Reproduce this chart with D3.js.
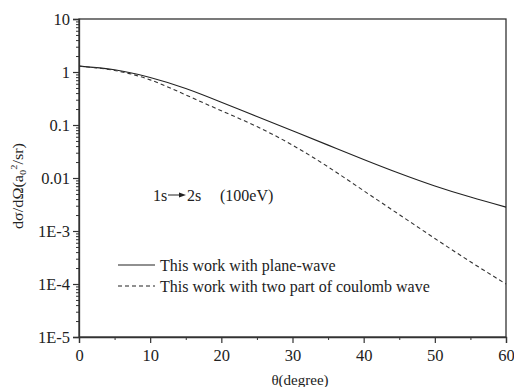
<!DOCTYPE html>
<html>
<head>
<meta charset="utf-8">
<script src="https://cdn.jsdelivr.net/npm/d3@7"></script>
<style>
  body { margin: 0; background: #fff; }
  text { font-family: "Liberation Serif", "Times New Roman", serif; fill: #222; }
</style>
</head>
<body>
<svg id="chart"></svg>
<script>
// scattering angle (degree)
const theta = [0, 5, 10, 15, 20, 25, 30, 35, 40, 45, 50, 55, 60];
// plane-wave result
const planeWave = [1.29, 1.10, 0.79, 0.49, 0.27, 0.1445, 0.0776, 0.0417, 0.0224, 0.0123, 0.00708, 0.00437, 0.00282];
// two part coulomb wave result
const coulombWave = [1.29, 1.07, 0.71, 0.37, 0.186, 0.0933, 0.0417, 0.0162, 0.00575, 0.00204, 0.000724, 0.000263, 0.0001];

const xTicks = [0, 10, 20, 30, 40, 50, 60];
const yTicks = [10, 1, 0.1, 0.01, 1e-3, 1e-4, 1e-5];
const yTickLabels = ["10", "1", "0.1", "0.01", "1E-3", "1E-4", "1E-5"];

const seriesNames = ["This work with plane-wave", "This work with two part of coulomb wave"];

const margin = {top: 19, right: 8, bottom: 50, left: 79};
const W = 514, H = 387;
const width = W - margin.left - margin.right;
const height = H - margin.top - margin.bottom;

const svg = d3.select("#chart").attr("width", W).attr("height", H);
const g = svg.append("g").attr("transform", `translate(${margin.left},${margin.top})`);

const x = d3.scaleLinear().domain([0, 60]).range([0, width]);
const y = d3.scaleLog().domain([1e-5, 10]).range([height, 0]);

// frame
g.append("rect")
    .attr("width", width).attr("height", height)
    .attr("fill", "none").attr("stroke", "#333").attr("stroke-width", 1.3);

// minor ticks
const minorY = [];
for (let e = -5; e < 1; e++) for (let m = 2; m < 10; m++) minorY.push(m * Math.pow(10, e));
g.append("g")
    .call(d3.axisLeft(y).tickValues(minorY).tickSize(3).tickFormat(""))
    .call(a => a.select(".domain").remove())
    .selectAll("line").attr("stroke", "#333");

g.append("g")
    .attr("transform", `translate(0,${height})`)
    .call(d3.axisBottom(x).tickValues([5, 15, 25, 35, 45, 55]).tickSize(3).tickFormat(""))
    .call(a => a.select(".domain").remove())
    .selectAll("line").attr("stroke", "#333");

// major axes
const yAxis = g.append("g")
    .call(d3.axisLeft(y).tickValues(yTicks).tickSize(6).tickPadding(3)
        .tickFormat((d, i) => yTickLabels[i]));
yAxis.select(".domain").attr("stroke", "#333").attr("stroke-width", 1.3);
yAxis.selectAll("line").attr("stroke", "#333").attr("stroke-width", 1.2);
yAxis.selectAll("text").style("font-size", "16.5px").attr("fill", "#222");

const xAxis = g.append("g")
    .attr("transform", `translate(0,${height})`)
    .call(d3.axisBottom(x).tickValues(xTicks).tickSize(6).tickPadding(6));
xAxis.select(".domain").attr("stroke", "#333").attr("stroke-width", 1.3);
xAxis.selectAll("line").attr("stroke", "#333").attr("stroke-width", 1.2);
xAxis.selectAll("text").style("font-size", "16.5px").attr("fill", "#222");

// curves
const line = d3.line()
    .x((d, i) => x(theta[i]))
    .y(d => y(d))
    .curve(d3.curveNatural);

g.append("path").datum(planeWave)
    .attr("d", line).attr("fill", "none")
    .attr("stroke", "#222").attr("stroke-width", 1.1);

g.append("path").datum(coulombWave)
    .attr("d", line).attr("fill", "none")
    .attr("stroke", "#333").attr("stroke-width", 1.1)
    .attr("stroke-dasharray", "4,3");

// legend
const legend = g.append("g").attr("transform", `translate(39,246)`);
seriesNames.forEach((name, i) => {
    const row = legend.append("g").attr("transform", `translate(0,${i * 21})`);
    row.append("line").attr("x1", 0).attr("x2", 37)
        .attr("stroke", "#222").attr("stroke-width", 1.1)
        .attr("stroke-dasharray", i === 1 ? "4,3" : null);
    row.append("text").attr("x", 42).attr("dy", "0.35em")
        .style("font-size", "16px").text(name);
});

// annotation
const ann = g.append("g").attr("transform", `translate(74,176)`);
ann.append("text").attr("x", 0).attr("dy", "0.35em").style("font-size", "16px").text("1s");
ann.append("line").attr("x1", 15).attr("x2", 28).attr("stroke", "#222").attr("stroke-width", 1);
ann.append("path").attr("d", "M26,-2.5 L33,0 L26,2.5 Z").attr("fill", "#222");
ann.append("text").attr("x", 34).attr("dy", "0.35em").style("font-size", "16px").text("2s");
ann.append("text").attr("x", 67).attr("dy", "0.35em").style("font-size", "16px").text("(100eV)");

// axis titles
svg.append("text")
    .attr("x", 300).attr("y", 385)
    .attr("text-anchor", "middle")
    .style("font-size", "15px")
    .text("θ(degree)");

const yTitle = svg.append("text")
    .attr("transform", "translate(23,186) rotate(-90)")
    .attr("text-anchor", "middle")
    .attr("textLength", 86)
    .attr("lengthAdjust", "spacingAndGlyphs")
    .style("font-size", "14px");
yTitle.append("tspan").text("dσ/dΩ(a");
yTitle.append("tspan").attr("dy", 3).style("font-size", "9px").text("0");
yTitle.append("tspan").attr("dy", -9).style("font-size", "9px").text("2");
yTitle.append("tspan").attr("dy", 6).text("/sr)");
</script>
</body>
</html>
